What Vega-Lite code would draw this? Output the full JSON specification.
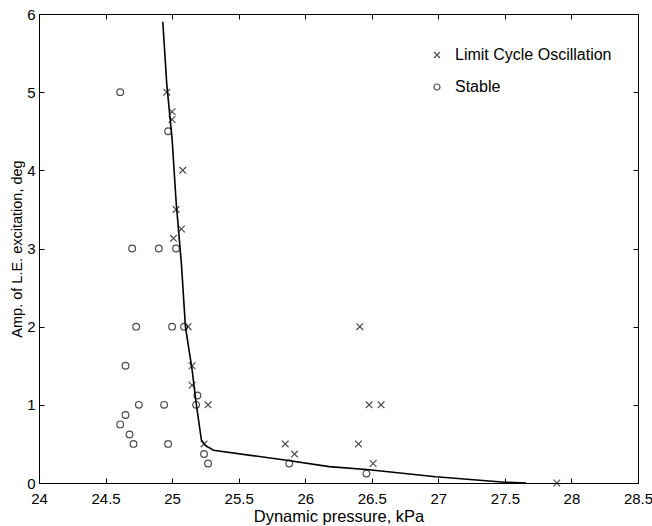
{
  "$schema": "https://vega.github.io/schema/vega-lite/v6.json",
  "width": 599,
  "height": 469,
  "autosize": "none",
  "padding": {"left": 39, "top": 14, "right": 14, "bottom": 43},
  "background": "white",
  "config": {
    "font": "Liberation Sans",
    "view": {"stroke": "black", "strokeWidth": 1},
    "axis": {
      "grid": false,
      "domainColor": "black",
      "tickColor": "black",
      "tickSize": -5,
      "labelColor": "black",
      "labelFontSize": 15,
      "labelFont": "Liberation Sans",
      "titleFont": "Liberation Sans",
      "titleFontWeight": "normal",
      "titleColor": "black",
      "labelFlush": false,
      "labelOverlap": false,
      "format": "~g"
    },
    "legend": {
      "labelFontSize": 16,
      "labelFont": "Liberation Sans",
      "labelColor": "black"
    }
  },
  "datasets": {
    "curve": [
      {"q": 24.93, "amp": 5.9},
      {"q": 24.96, "amp": 5.1},
      {"q": 25.0, "amp": 4.4},
      {"q": 25.03, "amp": 3.6},
      {"q": 25.07, "amp": 2.8},
      {"q": 25.1, "amp": 2.0},
      {"q": 25.15, "amp": 1.45},
      {"q": 25.18, "amp": 1.03},
      {"q": 25.22, "amp": 0.55},
      {"q": 25.25, "amp": 0.48},
      {"q": 25.31, "amp": 0.42},
      {"q": 25.86, "amp": 0.29},
      {"q": 26.18, "amp": 0.21},
      {"q": 26.48, "amp": 0.17},
      {"q": 26.98, "amp": 0.08},
      {"q": 27.5, "amp": 0.01},
      {"q": 27.66, "amp": 0.0}
    ],
    "points": [
      {"q": 24.96, "amp": 5.0, "type": "Limit Cycle Oscillation"},
      {"q": 25.0, "amp": 4.75, "type": "Limit Cycle Oscillation"},
      {"q": 25.0, "amp": 4.65, "type": "Limit Cycle Oscillation"},
      {"q": 25.08, "amp": 4.0, "type": "Limit Cycle Oscillation"},
      {"q": 25.03, "amp": 3.5, "type": "Limit Cycle Oscillation"},
      {"q": 25.07, "amp": 3.25, "type": "Limit Cycle Oscillation"},
      {"q": 25.01, "amp": 3.13, "type": "Limit Cycle Oscillation"},
      {"q": 25.12, "amp": 2.0, "type": "Limit Cycle Oscillation"},
      {"q": 25.15, "amp": 1.5, "type": "Limit Cycle Oscillation"},
      {"q": 25.15, "amp": 1.25, "type": "Limit Cycle Oscillation"},
      {"q": 25.27, "amp": 1.0, "type": "Limit Cycle Oscillation"},
      {"q": 25.24, "amp": 0.5, "type": "Limit Cycle Oscillation"},
      {"q": 25.85, "amp": 0.5, "type": "Limit Cycle Oscillation"},
      {"q": 25.92, "amp": 0.37, "type": "Limit Cycle Oscillation"},
      {"q": 26.41, "amp": 2.0, "type": "Limit Cycle Oscillation"},
      {"q": 26.48, "amp": 1.0, "type": "Limit Cycle Oscillation"},
      {"q": 26.57, "amp": 1.0, "type": "Limit Cycle Oscillation"},
      {"q": 26.4, "amp": 0.5, "type": "Limit Cycle Oscillation"},
      {"q": 26.51, "amp": 0.25, "type": "Limit Cycle Oscillation"},
      {"q": 27.89, "amp": 0.0, "type": "Limit Cycle Oscillation"},
      {"q": 24.61, "amp": 5.0, "type": "Stable"},
      {"q": 24.97, "amp": 4.5, "type": "Stable"},
      {"q": 24.7, "amp": 3.0, "type": "Stable"},
      {"q": 24.9, "amp": 3.0, "type": "Stable"},
      {"q": 25.03, "amp": 3.0, "type": "Stable"},
      {"q": 24.73, "amp": 2.0, "type": "Stable"},
      {"q": 25.0, "amp": 2.0, "type": "Stable"},
      {"q": 25.09, "amp": 2.0, "type": "Stable"},
      {"q": 24.65, "amp": 1.5, "type": "Stable"},
      {"q": 25.19, "amp": 1.12, "type": "Stable"},
      {"q": 25.18, "amp": 1.0, "type": "Stable"},
      {"q": 24.75, "amp": 1.0, "type": "Stable"},
      {"q": 24.94, "amp": 1.0, "type": "Stable"},
      {"q": 24.65, "amp": 0.87, "type": "Stable"},
      {"q": 24.61, "amp": 0.75, "type": "Stable"},
      {"q": 24.68, "amp": 0.62, "type": "Stable"},
      {"q": 24.71, "amp": 0.5, "type": "Stable"},
      {"q": 24.97, "amp": 0.5, "type": "Stable"},
      {"q": 25.24, "amp": 0.37, "type": "Stable"},
      {"q": 25.27, "amp": 0.25, "type": "Stable"},
      {"q": 25.88, "amp": 0.25, "type": "Stable"},
      {"q": 26.46, "amp": 0.12, "type": "Stable"}
    ]
  },
  "layer": [
    {
      "data": {"name": "curve"},
      "mark": {"type": "line", "color": "black", "strokeWidth": 1.6},
      "encoding": {
        "x": {
          "field": "q", "type": "quantitative",
          "scale": {"domain": [24, 28.5], "nice": false, "zero": false},
          "axis": {
            "orient": "bottom",
            "values": [24, 24.5, 25, 25.5, 26, 26.5, 27, 27.5, 28, 28.5],
            "labelPadding": 13,
            "title": "Dynamic pressure, kPa",
            "titleFontSize": 16.5,
            "titlePadding": 2
          }
        },
        "y": {
          "field": "amp", "type": "quantitative",
          "scale": {"domain": [0, 6], "nice": false},
          "axis": {
            "orient": "left",
            "values": [0, 1, 2, 3, 4, 5, 6],
            "labelPadding": 9,
            "title": "Amp. of L.E. excitation, deg",
            "titleFontSize": 14.5,
            "titlePadding": 2
          }
        }
      }
    },
    {
      "data": {"name": "points"},
      "mark": {"type": "point", "filled": false, "color": "black", "strokeWidth": 1.2, "size": 45},
      "encoding": {
        "x": {
          "field": "q", "type": "quantitative",
          "scale": {"domain": [24, 28.5], "nice": false, "zero": false},
          "axis": {
            "orient": "top",
            "values": [24, 24.5, 25, 25.5, 26, 26.5, 27, 27.5, 28, 28.5],
            "labels": false,
            "title": null,
            "domain": false
          }
        },
        "y": {
          "field": "amp", "type": "quantitative",
          "scale": {"domain": [0, 6], "nice": false},
          "axis": {
            "orient": "right",
            "values": [0, 1, 2, 3, 4, 5, 6],
            "labels": false,
            "title": null,
            "domain": false
          }
        },
        "shape": {
          "field": "type", "type": "nominal",
          "scale": {
            "domain": ["Limit Cycle Oscillation", "Stable"],
            "range": ["M-1,-1L1,1M-1,1L1,-1", "circle"]
          },
          "legend": {
            "title": null,
            "orient": "none",
            "legendX": 390,
            "legendY": 33,
            "rowPadding": 16,
            "labelOffset": 10,
            "symbolSize": 36,
            "symbolStrokeColor": "black",
            "symbolStrokeWidth": 1.2
          }
        }
      }
    }
  ],
  "resolve": {"axis": {"x": "independent", "y": "independent"}}
}
